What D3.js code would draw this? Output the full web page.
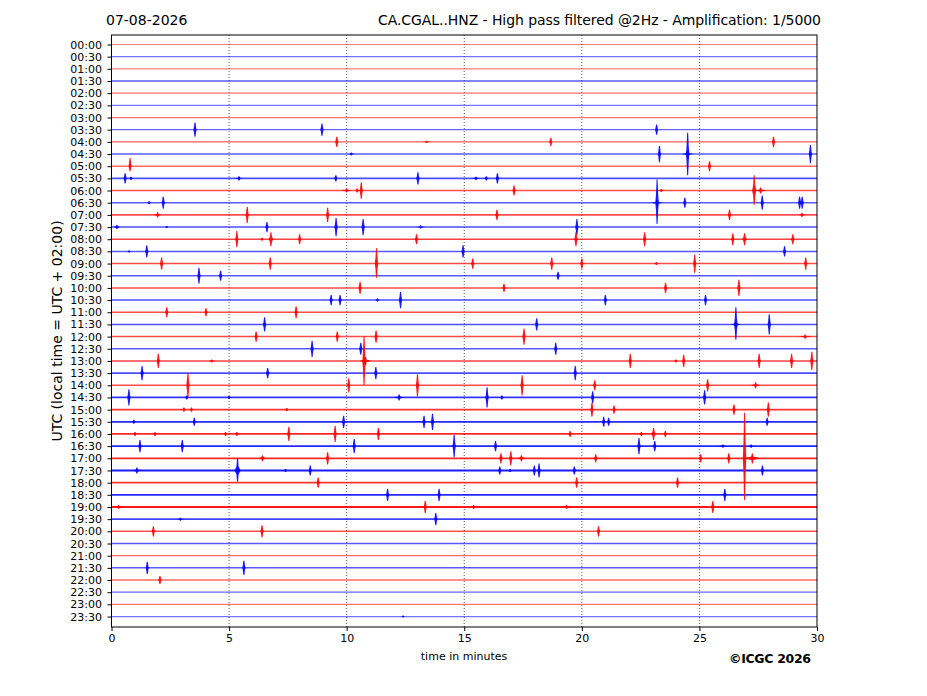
<!DOCTYPE html>
<html><head><meta charset="utf-8">
<script src="https://cdn.jsdelivr.net/npm/d3@7"></script>
<style>body{margin:0;background:#fff}svg{display:block}text{font-family:"DejaVu Sans",sans-serif}</style>
</head><body>
<svg id="c" width="927" height="696"></svg>
<script>
const rowLabels = ["00:00","00:30","01:00","01:30","02:00","02:30","03:00","03:30","04:00","04:30","05:00","05:30",
"06:00","06:30","07:00","07:30","08:00","08:30","09:00","09:30","10:00","10:30","11:00","11:30",
"12:00","12:30","13:00","13:30","14:00","14:30","15:00","15:30","16:00","16:30","17:00","17:30",
"18:00","18:30","19:00","19:30","20:00","20:30","21:00","21:30","22:00","22:30","23:00","23:30"];
const xTicks = [0,5,10,15,20,25,30];
// background noise level per row (0 quiet .. 1 noisy)
const rowNoise = [0.2,0.3,0.2,0.5,0.3,0.3,0.3,0.4,0.5,0.5,0.4,0.6,0.6,0.5,0.6,0.6,0.7,0.5,0.6,0.5,0.6,0.6,0.6,0.6,
0.6,0.5,0.7,0.6,0.6,0.8,0.8,0.9,0.9,0.9,0.9,1.0,0.8,0.9,1.0,0.7,0.6,0.5,0.4,0.5,0.4,0.4,0.3,0.3];
// events: [row, minute, amplitude up, amplitude down, duration (min)]
const events = [
[7,3.55,7,7,0.1],[7,8.95,6,6,0.1],[7,23.18,5,5,0.1],
[8,9.58,5,5,0.1],[8,18.68,4,4,0.1],[8,28.15,5,5,0.1],[8,13.4,1,1,0.4],
[9,10.2,1.5,1.5,0.3],[9,23.3,8,8,0.1],[9,24.5,21,21,0.15],[9,24.5,3,3,0.5],[9,29.72,9,9,0.1],
[10,0.79,8,5,0.1],[10,25.43,5,5,0.1],
[11,0.58,5,5,0.08],[11,0.83,1.5,1.5,0.1],[11,5.42,2,2,0.3],[11,9.54,3,3,0.1],[11,13.03,6,6,0.1],[11,15.5,1.5,1.5,0.3],[11,15.94,2,2,0.2],[11,16.41,5,5,0.12],
[12,10.0,2,2,0.5],[12,10.45,2,2,0.2],[12,10.62,8,8,0.12],[12,17.12,5,5,0.1],[12,23.38,1.5,1.5,0.3],[12,27.33,15,14,0.18],[12,27.6,3,3,0.5],
[13,1.6,1.5,1.5,0.1],[13,2.2,6,6,0.1],[13,23.2,23,21,0.15],[13,23.2,3,3,0.5],[13,24.38,5,5,0.1],[13,27.67,7,7,0.1],[13,29.26,6,6,0.12],[13,29.37,6,6,0.12],
[14,1.96,2.5,2.5,0.35],[14,5.77,8,8,0.1],[14,9.19,7,7,0.1],[14,16.39,5,5,0.1],[14,26.28,5,5,0.1],[14,29.36,2,2,0.3],
[15,0.23,2,2,0.3],[15,2.35,1,1,0.1],[15,6.61,5,5,0.1],[15,9.55,9,9,0.1],[15,10.7,8,8,0.1],[15,13.15,1.5,1.5,0.4],[15,19.79,8,8,0.12],
[16,5.33,8,8,0.1],[16,6.4,1.5,1.5,0.1],[16,6.78,7,7,0.2],[16,8.0,5,5,0.1],[16,12.97,5,5,0.1],[16,19.75,7,7,0.1],[16,22.67,7,7,0.1],[16,26.42,6,6,0.1],[16,26.92,6,6,0.2],[16,28.97,5,5,0.1],
[17,0.75,1,1,0.1],[17,1.5,6,6,0.1],[17,14.95,6,6,0.1],[17,28.62,5,5,0.1],
[18,2.13,6,6,0.1],[18,6.75,6,6,0.1],[18,11.27,15,14,0.15],[18,15.36,5,5,0.1],[18,18.72,6,6,0.1],[18,20.0,5,5,0.1],[18,23.17,1.5,1.5,0.2],[18,24.8,9,9,0.1],[18,29.52,6,6,0.1],
[19,3.72,8,8,0.1],[19,4.64,5,5,0.1],[19,18.99,4,4,0.1],
[20,10.57,6,6,0.1],[20,16.69,4,4,0.1],[20,23.56,5,5,0.1],[20,26.68,8,8,0.1],
[21,9.34,5,5,0.1],[21,9.72,5,5,0.1],[21,11.31,1.5,1.5,0.2],[21,12.29,8,8,0.1],[21,21.0,5,5,0.1],[21,25.26,5,5,0.1],
[22,2.35,5,5,0.1],[22,4.02,4,4,0.1],[22,7.85,6,6,0.1],
[23,6.51,7,7,0.1],[23,18.08,6,6,0.1],[23,26.55,17,15,0.15],[23,26.55,3,3,0.4],[23,27.97,10,10,0.1],
[24,6.15,5,5,0.1],[24,9.6,5,5,0.1],[24,11.25,6,6,0.1],[24,17.54,8,8,0.1],[24,29.5,2,2,0.6],
[25,8.53,8,8,0.1],[25,10.6,6,6,0.1],[25,18.89,6,6,0.1],
[26,1.99,7,7,0.1],[26,4.26,1.5,1.5,0.3],[26,10.74,24,24,0.15],[26,10.8,4,4,0.5],[26,22.06,7,7,0.1],[26,24.0,1.5,1.5,0.1],[26,24.33,6,6,0.1],[26,27.54,7,7,0.1],[26,28.92,7,7,0.1],[26,29.78,9,9,0.1],
[27,1.3,7,7,0.12],[27,6.64,5,5,0.1],[27,11.24,6,6,0.1],[27,19.72,7,7,0.1],
[28,3.25,12,12,0.12],[28,10.09,7,7,0.1],[28,13.01,11,11,0.1],[28,17.46,10,10,0.1],[28,20.55,5,5,0.1],[28,25.35,6,6,0.12],[28,27.39,3,3,0.45],
[29,0.74,8,8,0.1],[29,12.23,3,3,0.4],[29,15.97,10,10,0.1],[29,20.46,6,6,0.1],[29,25.22,7,7,0.1],[29,3.2,2,2,0.1],[29,5.0,1.5,1.5,0.1],[29,16.6,2,2,0.1],
[30,3.08,2,2,0.1],[30,3.4,2,2,0.1],[30,7.45,1.5,1.5,0.1],[30,20.43,7,7,0.1],[30,21.37,4,4,0.1],[30,26.47,5,5,0.1],[30,27.93,7,7,0.1],
[31,0.95,2,2,0.1],[31,3.52,4,4,0.1],[31,9.87,6,6,0.1],[31,13.29,6,6,0.1],[31,13.65,8,8,0.1],[31,20.93,5,5,0.1],[31,21.14,4,4,0.1],[31,27.88,4,4,0.1],
[32,1.0,2,2,0.1],[32,1.85,2,2,0.1],[32,4.85,2,2,0.1],[32,5.33,2,2,0.1],[32,7.54,7,7,0.1],[32,9.51,8,8,0.1],[32,11.35,6,6,0.1],[32,19.5,3,3,0.1],[32,22.53,2,2,0.1],[32,23.05,6,6,0.2],[32,23.55,3,3,0.1],
[33,1.21,6,6,0.1],[33,3.01,6,6,0.1],[33,10.32,7,7,0.1],[33,14.57,11,11,0.1],[33,16.33,5,5,0.1],[33,22.43,8,8,0.1],[33,23.1,5,5,0.1],[33,26.0,1.5,1.5,0.4],[33,27.2,1.5,1.5,0.1],
[34,6.42,3,3,0.3],[34,9.19,6,6,0.1],[34,16.56,5,5,0.1],[34,16.98,7,7,0.1],[34,17.43,3,3,0.4],[34,20.59,4,4,0.1],[34,25.05,4,4,0.1],[34,26.25,5,5,0.1],[34,26.92,45,41,0.15],[34,27.25,5,5,0.7],
[35,1.08,3,3,0.4],[35,5.36,12,11,0.25],[35,7.4,1.5,1.5,0.1],[35,8.45,5,5,0.1],[35,16.51,4,4,0.1],[35,16.95,1.5,1.5,0.1],[35,17.98,5,5,0.1],[35,18.18,7,7,0.1],[35,19.68,4,4,0.1],[35,27.68,5,5,0.1],
[36,8.79,5,5,0.1],[36,19.78,5,5,0.1],[36,24.07,5,5,0.1],
[37,11.74,6,6,0.1],[37,13.93,6,6,0.1],[37,26.08,6,6,0.1],
[38,13.34,6,6,0.1],[38,15.4,2,2,0.2],[38,19.35,2,2,0.4],[38,25.57,6,6,0.1],[38,0.3,2,2,0.4],
[39,2.93,1.5,1.5,0.3],[39,13.79,6,6,0.1],
[40,1.78,5,5,0.1],[40,6.4,6,6,0.1],[40,20.71,5,5,0.1],
[43,1.52,6,6,0.1],[43,5.63,7,7,0.1],
[44,2.06,4,4,0.12],
[47,12.4,1,1,0.1]
];
const rowColors = ["#ff0000","#0000ff"];

const svg = d3.select("#c");
const x = d3.scaleLinear().domain([0,30]).range([111.5,817]);
const y = d3.scaleLinear().domain([-0.78,47.86]).range([35,627]);
const rowStep = y(1)-y(0);
const amp = d3.scaleLinear().domain([0,12]).range([0,rowStep]);

// grid
svg.append("g").selectAll("line").data(xTicks.slice(1,-1)).join("line")
  .attr("x1",d=>x(d)).attr("x2",d=>x(d)).attr("y1",35).attr("y2",627)
  .attr("stroke","#333").attr("stroke-width",0.8).attr("stroke-dasharray","1,2");

// baselines
svg.append("g").selectAll("line").data(rowLabels).join("line")
  .attr("x1",x(0)).attr("x2",x(30))
  .attr("y1",(d,i)=>y(i)).attr("y2",(d,i)=>y(i))
  .attr("stroke",(d,i)=>rowColors[i%2])
  .attr("stroke-opacity",(d,i)=>0.4+0.5*rowNoise[i])
  .attr("stroke-width",(d,i)=>1+0.9*rowNoise[i]);

// events
const path = e=>{
  const [r,m,au,ad,dur]=e;
  const cx=x(m), cy=y(r), hw=Math.max(1.7,(x(dur)-x(0))/2);
  const u=amp(au), dn=amp(ad);
  return `M${cx-hw},${cy} L${cx-1.1},${cy-u*0.35} L${cx-0.5},${cy-u} L${cx+0.5},${cy-u} L${cx+1.1},${cy-u*0.35} L${cx+hw},${cy} L${cx+1.1},${cy+dn*0.35} L${cx+0.5},${cy+dn} L${cx-0.5},${cy+dn} L${cx-1.1},${cy+dn*0.35} Z`;
};
svg.append("g").selectAll("path").data(events).join("path")
  .attr("d",path).attr("fill",d=>rowColors[d[0]%2]).attr("fill-opacity",0.9);

// frame
svg.append("rect").attr("x",x(0)).attr("y",35).attr("width",x(30)-x(0)).attr("height",592)
  .attr("fill","none").attr("stroke","#000").attr("stroke-width",1);

// y axis
const ya = svg.append("g").attr("transform",`translate(${x(0)},0)`)
  .call(d3.axisLeft(y).tickValues(d3.range(48)).tickFormat(i=>rowLabels[i]).tickSize(4).tickPadding(5.5));
ya.select(".domain").remove();
ya.selectAll("text").attr("font-size",11).attr("font-family","DejaVu Sans").attr("fill","#000");
ya.selectAll("line").attr("stroke","#000");

// x axis
const xa = svg.append("g").attr("transform",`translate(0,627)`)
  .call(d3.axisBottom(x).tickValues(xTicks).tickFormat(d3.format("d")).tickSize(4).tickPadding(3));
xa.select(".domain").remove();
xa.selectAll("text").attr("font-size",11).attr("font-family","DejaVu Sans").attr("fill","#000");
xa.selectAll("line").attr("stroke","#000");

svg.append("text").attr("x",464).attr("y",660).attr("text-anchor","middle").attr("font-size",11).text("time in minutes");
svg.append("text").attr("transform","translate(62,331) rotate(-90)").attr("text-anchor","middle").attr("font-size",14).text("UTC (local time = UTC + 02:00)");
svg.append("text").attr("x",106).attr("y",25).attr("font-size",14).text("07-08-2026");
svg.append("text").attr("x",821).attr("y",25).attr("text-anchor","end").attr("font-size",14).attr("textLength",443).text("CA.CGAL..HNZ - High pass filtered @2Hz - Amplification: 1/5000");
svg.append("text").attr("x",811).attr("y",663).attr("text-anchor","end").attr("font-size",12.5).attr("font-weight","bold").attr("font-family","Liberation Sans, Arial").attr("textLength",82).text("©ICGC 2026");
</script>
</body></html>
